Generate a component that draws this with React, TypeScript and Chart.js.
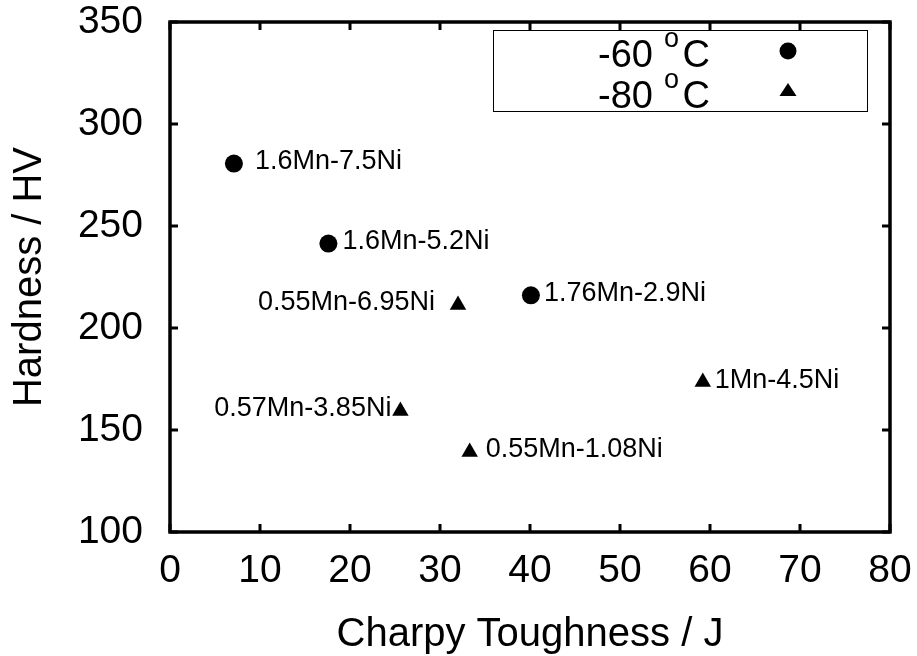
import React, { useEffect, useRef } from 'react';
import { Chart, registerables } from 'chart.js';

Chart.register(...registerables);

const FONT = '"Liberation Sans", Arial, Helvetica, sans-serif';

// ---- data ----
const legendTemps = ['-60', '-80'];
const degSymbol = 'o';
const unitSymbol = 'C';

const x60 = [7.1, 17.6, 40.1];
const y60 = [280.6, 241.4, 216.0];
const labels60 = ['1.6Mn-7.5Ni', '1.6Mn-5.2Ni', '1.76Mn-2.9Ni'];

const x80 = [32.0, 25.6, 33.3, 59.2];
const y80 = [211.3, 159.3, 139.2, 173.5];
const labels80 = ['0.55Mn-6.95Ni', '0.57Mn-3.85Ni', '0.55Mn-1.08Ni', '1Mn-4.5Ni'];

const xMin = 0;
const xMax = 80;
const xStep = 10;
const yMin = 100;
const yMax = 350;
const yStep = 50;

const xTitle = 'Charpy Toughness / J';
const yTitle = 'Hardness / HV';

// ---- label placement (layout only) ----
const side60 = ['right', 'right', 'right'];
const gap60 = [21, 14, 13];
const side80 = ['left', 'left', 'right', 'right'];
const gap80 = [23, 9, 16, 12];

const overlayPlugin = {
  id: 'overlay',
  afterDraw(chart: any) {
    const { ctx, chartArea: ca, scales } = chart;
    const xs = scales.x;
    const ys = scales.y;
    ctx.save();
    ctx.strokeStyle = '#000';
    ctx.fillStyle = '#000';

    // inward ticks on all four sides
    ctx.lineWidth = 3;
    const tl = 8;
    ctx.beginPath();
    xs.ticks.forEach((t: any) => {
      const px = xs.getPixelForValue(t.value);
      ctx.moveTo(px, ca.bottom);
      ctx.lineTo(px, ca.bottom - tl);
      ctx.moveTo(px, ca.top);
      ctx.lineTo(px, ca.top + tl);
    });
    ys.ticks.forEach((t: any) => {
      const py = ys.getPixelForValue(t.value);
      ctx.moveTo(ca.left, py);
      ctx.lineTo(ca.left + tl, py);
      ctx.moveTo(ca.right, py);
      ctx.lineTo(ca.right - tl, py);
    });
    ctx.stroke();

    // frame
    ctx.lineWidth = 3.5;
    ctx.strokeRect(ca.left, ca.top, ca.right - ca.left, ca.bottom - ca.top);

    // point labels
    ctx.font = `27px ${FONT}`;
    ctx.textBaseline = 'middle';
    const drawLabels = (xsArr: number[], ysArr: number[], labs: string[], sides: string[], gaps: number[]) => {
      labs.forEach((lab, i) => {
        const px = xs.getPixelForValue(xsArr[i]);
        const py = ys.getPixelForValue(ysArr[i]) - 2;
        if (sides[i] === 'right') {
          ctx.textAlign = 'left';
          ctx.fillText(lab, px + gaps[i], py);
        } else {
          ctx.textAlign = 'right';
          ctx.fillText(lab, px - gaps[i], py);
        }
      });
    };
    drawLabels(x60, y60, labels60, side60, gap60);
    drawLabels(x80, y80, labels80, side80, gap80);

    // legend box
    const bx = ca.right - 397;
    const by = ca.top + 8;
    const bw = 374;
    const bh = 81;
    ctx.lineWidth = 1;
    ctx.strokeRect(bx + 0.5, by + 0.5, bw, bh);

    ctx.textBaseline = 'alphabetic';
    const rows = [by + 37, by + 78];
    legendTemps.forEach((tmp, i) => {
      const base = rows[i];
      ctx.font = `38px ${FONT}`;
      ctx.textAlign = 'right';
      ctx.fillText(unitSymbol, bx + 217, base);
      ctx.fillText(tmp, bx + 160, base);
      ctx.font = `27px ${FONT}`;
      ctx.textAlign = 'left';
      ctx.fillText(degSymbol, bx + 171, base - 20);
    });
    // legend symbols
    const sx = bx + 295;
    ctx.beginPath();
    ctx.arc(sx, by + 21, 8.5, 0, Math.PI * 2);
    ctx.fill();
    ctx.beginPath();
    ctx.moveTo(sx, by + 53);
    ctx.lineTo(sx + 8.5, by + 66);
    ctx.lineTo(sx - 8.5, by + 66);
    ctx.closePath();
    ctx.fill();

    ctx.restore();
  },
};

export default function App() {
  const canvasRef = useRef<HTMLCanvasElement | null>(null);

  useEffect(() => {
    if (!canvasRef.current) return;
    const chart = new Chart(canvasRef.current, {
      type: 'scatter',
      data: {
        datasets: [
          {
            label: legendTemps[0],
            data: x60.map((x, i) => ({ x, y: y60[i] })),
            pointStyle: 'circle',
            pointRadius: 9,
            backgroundColor: '#000',
            borderColor: '#000',
            borderWidth: 0,
          },
          {
            label: legendTemps[1],
            data: x80.map((x, i) => ({ x, y: y80[i] })),
            pointStyle: 'triangle',
            pointRadius: 9.5,
            backgroundColor: '#000',
            borderColor: '#000',
            borderWidth: 0,
          },
        ],
      },
      options: {
        animation: false,
        responsive: false,
        maintainAspectRatio: false,
        devicePixelRatio: 1,
        layout: { padding: { left: 0, top: 22, right: 27, bottom: 0 } },
        plugins: {
          legend: { display: false },
          tooltip: { enabled: false },
        },
        scales: {
          x: {
            type: 'linear',
            min: xMin,
            max: xMax,
            afterFit: (s: any) => {
              s.height = 124;
              s.paddingLeft = 0;
              s.paddingRight = 0;
            },
            grid: { display: false, drawTicks: false },
            border: { display: false },
            ticks: {
              stepSize: xStep,
              autoSkip: false,
              maxRotation: 0,
              color: '#000',
              padding: 20,
              font: { family: FONT, size: 39, lineHeight: 1 },
            },
            title: {
              display: true,
              text: xTitle,
              color: '#000',
              font: { family: FONT, size: 40, lineHeight: 1 },
              padding: { top: 0, bottom: 1 },
            },
          },
          y: {
            type: 'linear',
            min: yMin,
            max: yMax,
            afterFit: (s: any) => {
              s.width = 170;
              s.paddingTop = 0;
              s.paddingBottom = 0;
            },
            grid: { display: false, drawTicks: false },
            border: { display: false },
            ticks: {
              stepSize: yStep,
              color: '#000',
              padding: 27,
              font: { family: FONT, size: 39, lineHeight: 1 },
            },
            title: {
              display: true,
              text: yTitle,
              color: '#000',
              font: { family: FONT, size: 40, lineHeight: 1 },
              padding: { top: 10, bottom: 0 },
            },
          },
        },
      },
      plugins: [overlayPlugin],
    });
    return () => chart.destroy();
  }, []);

  return (
    <div style={{ position: 'fixed', left: 0, top: 0, width: 917, height: 656, background: '#fff' }}>
      <canvas ref={canvasRef} width={917} height={656} style={{ display: 'block', width: 917, height: 656 }} />
    </div>
  );
}
